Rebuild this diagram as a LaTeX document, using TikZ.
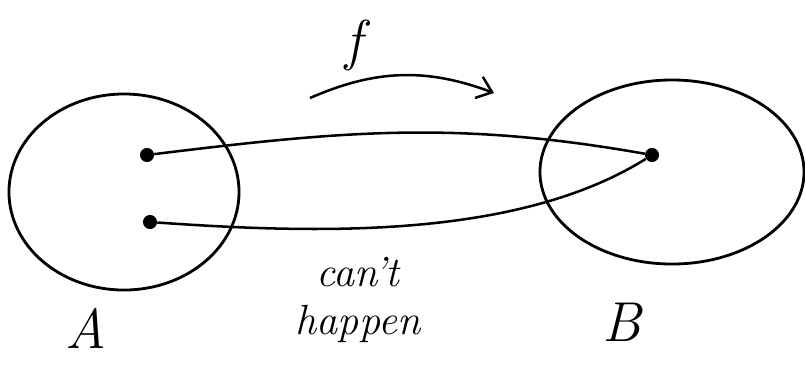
\documentclass[tikz,border=0pt]{standalone}
\usetikzlibrary{shapes.geometric, arrows.meta, positioning}
\definecolor{inkcolor}{rgb}{0.0, 0.0, 0.0}
\tikzset{setshape/.style={draw=inkcolor, line width=2pt, ellipse, inner sep=0pt}}
\tikzset{element/.style={circle, fill=inkcolor, inner sep=0pt, minimum size=10pt}}
\tikzset{link/.style={draw=inkcolor, line width=1.8pt}}
\tikzset{label/.style={text=inkcolor, font=\itshape\fontsize{40}{42}\selectfont}}
\tikzset{note/.style={text=inkcolor, align=center, font=\itshape\fontsize{30}{34}\selectfont}}

\begin{document}
\begin{tikzpicture}[x=0.025cm, y=0.025cm]
	\useasboundingbox (0,0) rectangle (805,-391);
	
	%%% NODES %%%
	
	% SETS
	\node[setshape, minimum width=5.75cm, minimum height=4.9cm] at (124,-192) (setA) {};
	\node[setshape, minimum width=6.6cm, minimum height=4.6cm] at (672,-172) (setB) {};
	
	% ELEMENTS
	\node[element] at (147,-155) (a1) {};
	\node[element] at (150,-222) (a2) {};
	\node[element] at (652,-155) (b) {};
	
	% LABELS
	\node[label] at (86,-328) (labelA) {A};
	\node[label] at (622,-322) (labelB) {B};
	\node[label] at (354,-45) (labelf) {f};
	\node[note] at (358,-300) (cant) {can't\\happen};
	
	% MAP ARROW
	\coordinate (fstart) at (310,-98);
	\coordinate (fend) at (494,-93);
	
	%%% ARROWS %%%
	
	\draw[link] (a1) to[out=7, in=170] (b);
	\draw[link] (a2) to[out=-4, in=212, looseness=0.8] (b);
	\draw[link, -{Straight Barb[length=10pt, width=16pt]}] (fstart) to[bend left=22] (fend);
	
\end{tikzpicture}
\end{document}
